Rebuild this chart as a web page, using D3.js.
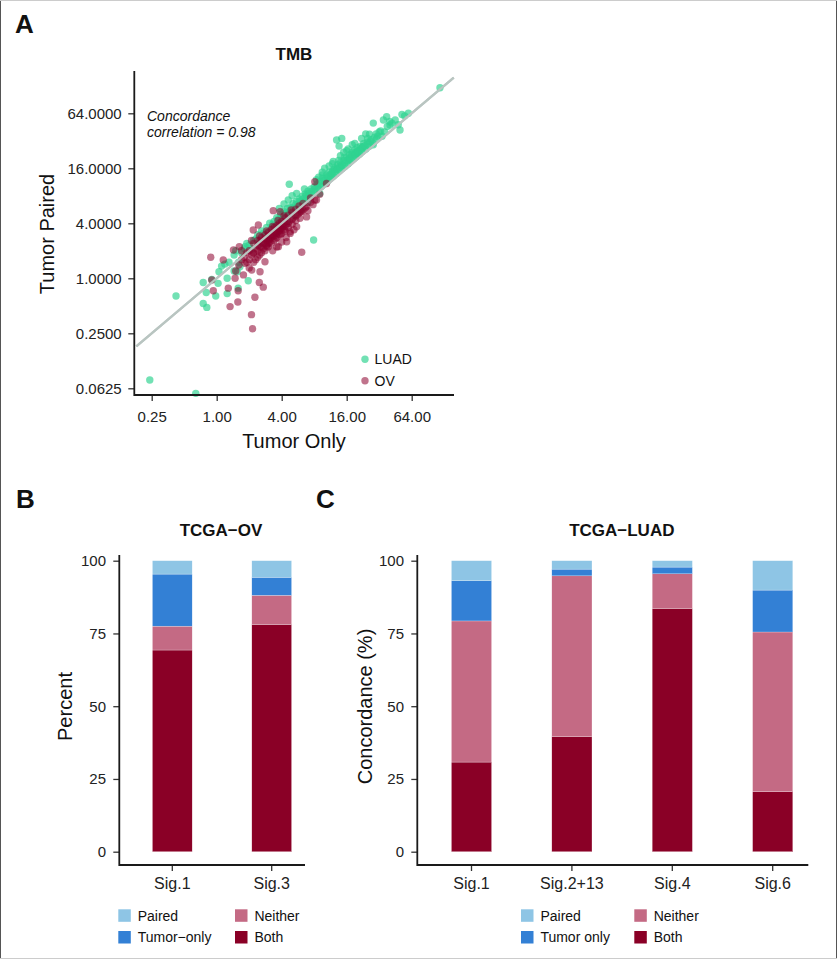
<!DOCTYPE html>
<html><head><meta charset="utf-8">
<script src="https://cdn.jsdelivr.net/npm/d3@7"></script>
<style>
body{margin:0;background:#fff}
svg{display:block;font-family:"Liberation Sans",Arial,Helvetica,sans-serif}
</style>
</head><body>
<svg id="c" width="839" height="961"></svg>
<script>
// ---------------- DATA ----------------
// Panel A: TMB, [tumor-only, tumor-paired]
const luadPoints = [
[0.24,0.077],[0.64,0.055],[0.42,0.64],[0.75,0.90],[0.75,0.53],[0.81,0.48],[0.80,0.70],[0.98,0.64],[0.90,0.97],[1.03,0.88],
[1.05,1.18],[1.11,1.36],[1.19,1.43],[1.25,1.00],[1.25,0.68],[1.58,0.78],[1.96,0.94],[1.55,1.18],[1.64,1.34],[1.45,1.80],
[1.83,2.22],[1.5,2.0],[1.7,1.9],[1.9,2.4],[2.1,2.1],[1.6,1.5],[1.3,1.5],[1.45,1.2],[1.8,2.1],[2.0,2.3],
[2.3,2.7],[2.2,2.6],[2.4,3.0],[2.5,2.4],[2.6,3.3],[2.8,2.9],[2.9,3.6],[3.0,3.2],[3.1,4.0],[3.2,3.5],
[3.4,4.2],[3.5,3.7],[3.6,4.6],[3.8,4.1],[3.9,5.0],[4.0,4.5],[4.2,5.4],[4.3,4.8],[4.5,5.8],[4.6,5.1],
[4.7,10.7],[4.8,6.0],[5.0,5.5],[5.1,6.6],[5.3,5.9],[5.5,7.0],[5.6,6.2],[5.8,7.4],[6.0,6.6],[6.2,7.9],
[6.4,7.0],[6.6,8.4],[6.8,7.6],[7.0,9.0],[7.2,8.0],[7.5,9.5],[7.7,8.4],[7.9,2.63],[8.0,10.0],[8.2,9.0],
[8.5,10.8],[8.8,9.6],[3.0,2.7],[4.5,4.2],[6.0,5.6],[7.0,6.8],[5.2,4.9],[9.0,8.5],[4.2,6.5],[4.6,7.2],
[5.0,8.0],[5.5,8.5],[3.8,5.8],[4.75,5.4],[9.0,11.5],[9.3,10.2],[9.6,12.5],[10,11.0],[10.4,13.5],[10.8,12.0],
[11,14.5],[11.3,12.8],[11.8,15.0],[12,13.2],[12.5,16.2],[12.8,14.0],[12.9,32.7],[14.4,34],[13.6,28],[13.2,17.5],
[13.6,15.2],[14,18.5],[14.5,16.0],[15,19.5],[15.5,17.0],[16,21],[16.5,18.0],[17,22.5],[17.5,19.5],[18,24],
[18.5,20.5],[19,25.5],[19.5,21.5],[20,27],[21,23],[21.5,28],[22,24.5],[23,30],[24,26],[26,37.7],
[25,31],[26,28],[27,33],[28.2,50],[28,30],[29,35],[30.3,34],[32,40],[34,36],[35,54],
[37.5,58.8],[38,46],[40.3,47.6],[45,54],[49.9,42],[48,48],[52,62],[59.6,64],[117,122],[22.8,27.6],
[28.2,28.9],[19.8,23.4],[14,22],[16,25],[18,29],[20,23],[22,34],[12,19],[10,16],[24,38],
[11,17],[15,24],[8.4,12],[9.5,13.5],[10.5,11.5],[11.5,13],[12.2,15.5],[13,16],[14.2,17],[15.2,21],
[16.8,20],[17.8,22.8],[19.2,23.5],[20.5,25],[21.8,26.5],[33,41],[42,50],[36,40],
[2.7,3.1],[3.3,3.9],[3.7,4.4],[4.1,5.0],[4.4,5.2],[4.9,5.8],[5.4,6.4],[5.9,7.0],[6.3,7.4],[6.7,8.0],
[7.1,8.5],[7.6,8.9],[8.1,9.5],[8.6,10.2],[9.2,10.8],[9.8,11.6],[10.2,12.4],[10.7,12.9],[11.2,13.6],[11.7,14.2],
[12.4,14.8],[13.1,15.6],[13.8,16.5],[14.6,17.5],[15.4,18.6],[16.2,19.6],[17.1,20.8],[18.1,22],[19.1,23],[20.2,24.2],
[21.3,25.6],[22.5,27],[23.7,28.4],[25.1,29.8],[26.5,31.5],[9.5,14.5],[11.8,18],[16.5,26],[19,30],[30,38],
[6.5,9.5],[8.8,12.8],[13.5,19.5],[25,34],[31,36],[55,60],[40,52]
];
const ovPoints = [
[0.88,1.70],[1.15,1.59],[0.90,0.96],[0.93,0.73],[1.28,0.78],[1.33,0.49],[1.57,0.55],[1.58,0.73],[1.48,1.00],[1.77,1.09],
[2.10,0.40],[2.15,0.28],[2.26,0.62],[2.48,0.90],[2.70,0.80],[6.13,1.93],[3.34,5.5],[2.43,3.83],[1.43,2.04],[1.62,2.22],
[1.83,1.46],[2.18,1.88],[2.80,1.52],[2.11,1.23],[2.52,2.62],[2.90,2.22],[3.73,2.22],[4.45,2.51],[4.78,3.23],[5.5,3.67],
[5.9,4.53],[2.52,1.18],[2.0,1.6],[2.0,2.0],[2.0,1.3],[2.2,1.9],[2.2,2.4],[2.2,1.5],[2.4,2.0],[2.4,2.6],
[2.4,1.7],[2.4,2.3],[2.6,2.2],[2.6,2.8],[2.6,1.9],[2.6,2.5],[2.8,2.4],[2.8,3.0],[2.8,2.0],[2.8,2.7],
[3.0,2.6],[3.0,3.2],[3.0,2.2],[3.0,2.9],[3.0,2.4],[3.2,2.8],[3.2,3.4],[3.2,2.4],[3.2,3.0],[3.4,2.9],
[3.4,3.6],[3.4,2.6],[3.4,3.2],[3.6,3.1],[3.6,3.8],[3.6,2.8],[3.6,3.4],[3.8,3.3],[3.8,4.0],[3.8,3.0],
[3.8,3.6],[4.0,3.5],[4.0,4.2],[4.0,3.1],[4.0,3.8],[4.3,3.7],[4.3,4.6],[4.3,3.3],[4.3,4.1],[4.6,4.0],
[4.6,4.9],[4.6,3.6],[5.0,4.4],[5.0,5.3],[5.0,3.9],[5.4,4.8],[5.4,5.7],[5.4,4.3],[5.8,5.2],[5.8,6.2],
[6.3,5.6],[6.3,6.6],[6.8,6.1],[6.8,4.7],[7.4,6.8],[7.4,7.6],[8.1,7.2],[8.1,11.4],[9.0,8.3],[10.4,10.9],
[1.6,1.4],[1.8,1.7],[1.5,1.2],[1.7,2.0],[1.9,1.5],[3.86,5.35],[2.18,3.38],[6.1,5.35],[3.6,2.2],[4.0,2.5],
[4.4,2.8],[4.8,3.1],[3.3,2.0],[5.2,3.4],[8.4,7.2],
[2.1,1.8],[2.3,2.1],[2.5,2.2],[2.7,2.4],[2.9,2.6],[3.1,2.7],[3.3,2.9],[3.5,3.1],[3.7,3.3],[3.9,3.5],
[4.1,3.7],[4.4,3.9],[4.7,4.2],[5.1,4.6],[5.6,5.0],[6.0,5.4],[6.6,5.9],[2.3,1.6],[2.5,1.8],[2.7,2.1],
[2.9,2.3],[3.1,2.5],[3.5,2.7],[3.9,3.0],[4.2,3.4],[2.5,2.9],[2.9,3.3],[3.3,3.7],[3.7,4.3],[4.2,4.8],
[4.9,5.6],[1.9,1.9],[2.1,2.6],[1.7,1.6],[7.0,5.5],[7.8,6.4]
];
const tmbXTicks = [0.25, 1, 4, 16, 64];
const tmbYTicks = [0.0625, 0.25, 1, 4, 16, 64];
const identityRange = [0.18, 157];

// Panel B: TCGA-OV
const ovSignatures = ["Sig.1", "Sig.3"];
const ovBoth      = [69.3, 78.1];
const ovNeither   = [8.2, 10.0];
const ovTumorOnly = [17.9, 6.2];
const ovPaired    = [4.6, 5.7];

// Panel C: TCGA-LUAD
const luadSignatures = ["Sig.1", "Sig.2+13", "Sig.4", "Sig.6"];
const luadBoth      = [30.8, 39.5, 83.6, 20.6];
const luadNeither   = [48.5, 55.3, 11.9, 54.9];
const luadTumorOnly = [13.8, 2.3, 2.3, 14.4];
const luadPaired    = [6.9, 2.9, 2.2, 10.1];

const pctTicks = [0, 25, 50, 75, 100];
const stackKeys = ["Both", "Neither", "TumorOnly", "Paired"];
const stackColors = {Both:"#8a0026", Neither:"#c46a84", TumorOnly:"#3380d5", Paired:"#8ec5e5"};

// ---------------- DRAW ----------------
const svg = d3.select("#c");
const AXIS = "#1a1a1a", TXT = "#222";

// frame
svg.append("line").attr("x1",0.5).attr("x2",0.5).attr("y1",0).attr("y2",959).attr("stroke","#555").attr("stroke-width",1);
svg.append("line").attr("x1",836.5).attr("x2",836.5).attr("y1",0).attr("y2",959).attr("stroke","#555").attr("stroke-width",1);
svg.append("line").attr("x1",0).attr("x2",837).attr("y1",0.5).attr("y2",0.5).attr("stroke","#ccc").attr("stroke-width",1);
svg.append("line").attr("x1",0).attr("x2",837).attr("y1",958.5).attr("y2",958.5).attr("stroke","#ccc").attr("stroke-width",1);

function panelLabel(t, x, y){
  svg.append("text").attr("x",x).attr("y",y).text(t)
    .attr("font-size",26).attr("font-weight","bold").attr("fill","#111");
}
function styleAxis(g, fs){
  g.selectAll(".tick line").attr("stroke","#333").attr("stroke-width",1.3);
  g.selectAll(".tick text").attr("font-size",fs).attr("fill",TXT)
    .attr("font-family",'"Liberation Sans",Arial,sans-serif');
}

// ===== Panel A =====
panelLabel("A", 15, 33);
const aL = 134.3, aR = 454, aT = 71, aB = 395;
const xA = d3.scaleLog().base(2).domain([0.25, 64]).range([151.7, 411.7]);
const yA = d3.scaleLog().base(2).domain([0.0625, 64]).range([388.3, 113.3]);

svg.append("text").attr("x",294).attr("y",60).attr("text-anchor","middle")
  .attr("font-size",17).attr("font-weight","bold").attr("fill","#111").text("TMB");

// identity line
svg.append("line")
  .attr("x1", xA(identityRange[0])).attr("y1", yA(identityRange[0]))
  .attr("x2", xA(identityRange[1])).attr("y2", yA(identityRange[1]))
  .attr("stroke","#b9c5c1").attr("stroke-width",2.2);

const luadCol = "#2fd391", ovCol = "#8c002d";
svg.append("g").selectAll("circle").data(luadPoints).join("circle")
  .attr("cx", d=>xA(d[0])).attr("cy", d=>yA(d[1])).attr("r",3.7)
  .attr("fill",luadCol).attr("fill-opacity",0.68);
svg.append("g").selectAll("circle").data(ovPoints).join("circle")
  .attr("cx", d=>xA(d[0])).attr("cy", d=>yA(d[1])).attr("r",3.7)
  .attr("fill",ovCol).attr("fill-opacity",0.55);
// identity line drawn over the points as in the reference
svg.append("line")
  .attr("x1", xA(identityRange[0])).attr("y1", yA(identityRange[0]))
  .attr("x2", xA(identityRange[1])).attr("y2", yA(identityRange[1]))
  .attr("stroke","#b9c5c1").attr("stroke-width",2.2);

// axes
const gxA = svg.append("g").attr("transform",`translate(0,${aB})`)
  .call(d3.axisBottom(xA).tickValues(tmbXTicks).tickFormat(d=>d.toFixed(2)).tickSize(6).tickPadding(10).tickSizeOuter(0));
gxA.select(".domain").remove(); styleAxis(gxA, 15);
const gyA = svg.append("g").attr("transform",`translate(${aL},0)`)
  .call(d3.axisLeft(yA).tickValues(tmbYTicks).tickFormat(d=>d.toFixed(4)).tickSize(6).tickPadding(6.6).tickSizeOuter(0));
gyA.select(".domain").remove(); styleAxis(gyA, 15);
svg.append("path").attr("d",`M${aL},${aT}V${aB}H${aR}`).attr("fill","none").attr("stroke",AXIS).attr("stroke-width",1.8);

svg.append("text").attr("transform","translate(54,234) rotate(-90)").attr("text-anchor","middle")
  .attr("font-size",20).attr("fill","#111").text("Tumor Paired");
svg.append("text").attr("x",294).attr("y",448).attr("text-anchor","middle")
  .attr("font-size",20).attr("fill","#111").text("Tumor Only");

const ann = svg.append("text").attr("font-size",14).attr("font-style","italic").attr("fill","#111");
ann.append("tspan").attr("x",147).attr("y",120.5).text("Concordance");
ann.append("tspan").attr("x",147).attr("y",136.5).text("correlation = 0.98");

const legA = [["LUAD", luadCol, 0.68],["OV", ovCol, 0.55]];
legA.forEach((d,i)=>{
  svg.append("circle").attr("cx",365).attr("cy",359.3+i*21.4).attr("r",3.7).attr("fill",d[1]).attr("fill-opacity",d[2]);
  svg.append("text").attr("x",374.5).attr("y",364+i*21.7).attr("font-size",14).attr("fill","#111").text(d[0]);
});

// ===== stacked bars =====
function barPanel(opts){
  const {cats, both, neither, tumor, paired, x0, x1, bandRange, title, titleX, ytitle, ytitleX, legendX, tumorLabel} = opts;
  const yS = d3.scaleLinear().domain([0,100]).range([851.7, 560.7]);
  const xS = d3.scaleBand().domain(cats).range(bandRange).paddingInner(0.6).paddingOuter(0.3);
  const rows = cats.map((c,i)=>({cat:c, Both:both[i], Neither:neither[i], TumorOnly:tumor[i], Paired:paired[i]}));
  const stacked = d3.stack().keys(stackKeys)(rows);
  const g = svg.append("g");
  g.selectAll("g.s").data(stacked).join("g").attr("class","s").attr("fill",d=>stackColors[d.key])
    .selectAll("rect").data(d=>d).join("rect")
    .attr("x",d=>xS(d.data.cat)).attr("width",xS.bandwidth())
    .attr("y",d=>yS(d[1])).attr("height",d=>yS(d[0])-yS(d[1]))
    .attr("stroke","#fff").attr("stroke-width",0.4).attr("stroke-opacity",0.6);

  const gy = svg.append("g").attr("transform",`translate(${x0},0)`)
    .call(d3.axisLeft(yS).tickValues(pctTicks).tickSize(6).tickPadding(7.3).tickSizeOuter(0));
  gy.select(".domain").remove(); styleAxis(gy, 15);
  const gx = svg.append("g").attr("transform",`translate(0,865)`)
    .call(d3.axisBottom(xS).tickSize(6).tickPadding(6.6).tickSizeOuter(0));
  gx.select(".domain").remove(); styleAxis(gx, 16);
  svg.append("path").attr("d",`M${x0},555V865H${x1}`).attr("fill","none").attr("stroke",AXIS).attr("stroke-width",1.8);

  svg.append("text").attr("x",titleX).attr("y",536).attr("text-anchor","middle")
    .attr("font-size",17).attr("font-weight","bold").attr("fill","#111").text(title);
  svg.append("text").attr("transform",`translate(${ytitleX},706.5) rotate(-90)`).attr("text-anchor","middle")
    .attr("font-size",20).attr("fill","#111").text(ytitle);

  const leg = [["Paired","Paired",0,0],[tumorLabel,"TumorOnly",0,1],["Neither","Neither",1,0],["Both","Both",1,1]];
  leg.forEach(d=>{
    const lx = legendX[d[2]];
    svg.append("rect").attr("x",lx).attr("y",909.3+d[3]*21.7).attr("width",12.5).attr("height",12.5).attr("fill",stackColors[d[1]]);
    svg.append("text").attr("x",lx+19.4).attr("y",920.5+d[3]*21.7).attr("font-size",14).attr("fill","#111").text(d[0]);
  });
}

panelLabel("B", 16, 508);
barPanel({cats:ovSignatures, both:ovBoth, neither:ovNeither, tumor:ovTumorOnly, paired:ovPaired,
  x0:119.3, x1:305, bandRange:[122.6, 321.4], title:"TCGA\u2212OV", titleX:221, ytitle:"Percent", ytitleX:72,
  legendX:[118.3, 235], tumorLabel:"Tumor\u2212only"});

panelLabel("C", 316, 508);
barPanel({cats:luadSignatures, both:luadBoth, neither:luadNeither, tumor:luadTumorOnly, paired:luadPaired,
  x0:417.3, x1:808.3, bandRange:[421.3, 822.9], title:"TCGA\u2212LUAD", titleX:621.8, ytitle:"Concordance (%)", ytitleX:372,
  legendX:[521, 634.3], tumorLabel:"Tumor only"});
</script>
</body></html>
